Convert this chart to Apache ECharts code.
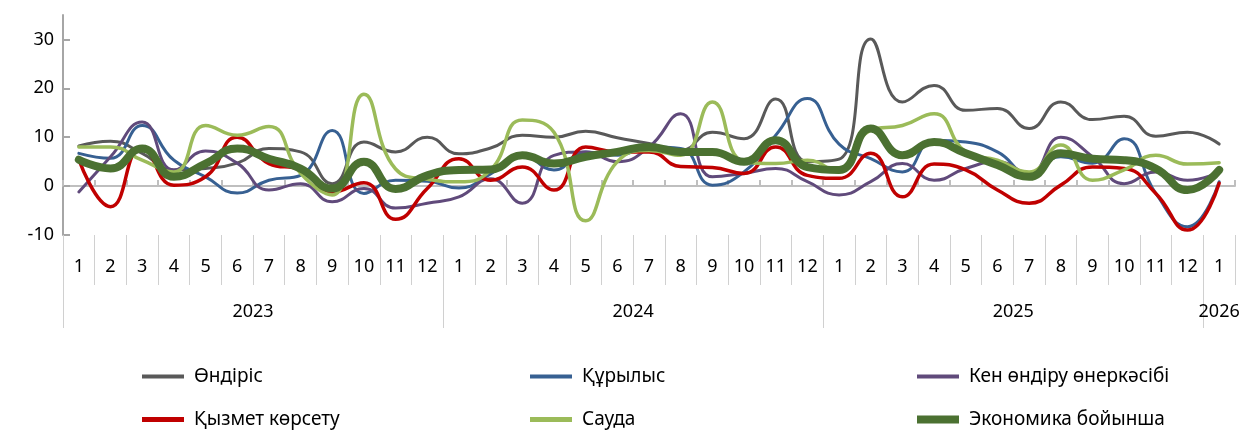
<!DOCTYPE html>
<html>
<head>
<meta charset="utf-8">
<script src="https://cdn.jsdelivr.net/npm/echarts@6/dist/echarts.min.js"></script>
<style>
html,body{margin:0;padding:0;background:#fff;}
#chart{width:1248px;height:431px;}
</style>
</head>
<body>
<div id="chart"></div>
<script>
const months = ['1','2','3','4','5','6','7','8','9','10','11','12',
                '1','2','3','4','5','6','7','8','9','10','11','12',
                '1','2','3','4','5','6','7','8','9','10','11','12',
                '1'];
const years = ['2023','2024','2025','2026'];
const yTicks = [-10, 0, 10, 20, 30];

const production = [8.2, 9.2, 6.7, 3.3, 3.6, 4.7, 7.7, 7, 0.5, 9, 7, 10,
                    6.6, 7.8, 10.4, 10, 11.2, 9.9, 8.7, 7.3, 11, 9.7, 17.8, 5,
                    5.5, 30.1, 17.2, 20.6, 15.5, 15.9, 11.8, 17.2, 13.6, 14.3, 10.2, 11,
                    8.6];
const construction = [6.7, 5.7, 12.4, 5.3, 1.9, -1.4, 1.2, 2.2, 11.4, -1.5, 1.2, 1.0,
                      -0.4, 2.5, 6.3, 3.3, 7, 6.3, 8, 7.7, 0.2, 2.9, 10.4, 17.9,
                      8.6, 5.6, 2.9, 9.4, 9, 7, 2.6, 6, 4.7, 9.7, -1.5, -8.3,
                      0.9];
const mining = [-1.2, 6, 13.1, 3.3, 7.2, 4.7, -0.8, 0.5, -3.2, -0.5, -4.5, -3.5,
                -2.2, 1.5, -3.5, 6.3, 7, 5, 8, 14.8, 1.9, 2.6, 3.6, 0.9,
                -1.8, 0.9, 4.6, 1.2, 3.6, 5, 2.6, 10, 6, 0.5, 2.9, 1.2,
                2.9];
const services = [5.4, -4.2, 8, 0.2, 1.9, 10, 4.6, 3.3, -1.2, 0.7, -6.8, -0.5,
                  5.6, 1.2, 3.9, -0.8, 8, 7, 7, 4, 3.8, 2.6, 8, 2.2,
                  1.6, 6.7, -2.2, 4.5, 3.3, -0.8, -3.5, 0.2, 3.9, 3.6, -1.5, -9,
                  0.6];
const trade = [8, 8, 5.3, 2.9, 12.4, 10.4, 12.2, 2.6, -1.8, 18.8, 3.5, 1.4,
               0.9, 3.3, 13.5, 11, -7.1, 5, 7.3, 6.3, 17.2, 5, 4.6, 5.3,
               2.9, 11.4, 12.4, 14.8, 7, 5.3, 2.9, 8.4, 1.2, 3.3, 6.3, 4.5,
               4.8];
const economy = [5.4, 3.6, 7.7, 1.9, 4.6, 7.7, 5.6, 3.6, -0.5, 5, -0.6, 2.2,
                 3.3, 3.4, 6.3, 4.6, 6, 7, 8, 7, 7, 5, 9.4, 3.9,
                 3.3, 11.8, 6.3, 9, 6.7, 4.3, 1.9, 6.7, 5.6, 5.3, 3.6, -0.8,
                 3.3];

const names = ['Өндіріс','Құрылыс','Кен өндіру өнеркәсібі','Қызмет көрсету','Сауда','Экономика бойынша'];
const colors = ['#595959','#376092','#604A7B','#C00000','#9BBB59','#4B7131'];
const widths = [3, 3, 3, 3.5, 3.5, 8];
const legendHeights = [4, 4, 4, 5, 5, 8];
const datas = [production, construction, mining, services, trade, economy];

const yearLabelPos = [6, 18, 30, 36.5];
const yearSepPos = [0, 12, 24, 36];

const FONT = 'Noto Sans';
const chart = echarts.init(document.getElementById('chart'), null, {renderer:'canvas'});

const legendLefts = [137, 525, 912];
const legendTops = [362, 405];

const option = {
  backgroundColor: '#ffffff',
  animation: false,
  textStyle: {fontFamily: FONT},
  grid: {left: 63, right: 13, top: 15, bottom: 196, containLabel: false},
  yAxis: {
    type: 'value', min: -10, max: 35,
    axisLine: {show: true, lineStyle: {color: '#A6A6A6', width: 2}},
    axisTick: {show: true, inside: true, length: 7, customValues: yTicks, lineStyle: {color: '#A6A6A6', width: 2}},
    axisLabel: {customValues: yTicks, color: '#000', fontSize: 18, fontFamily: FONT, margin: 9},
    splitLine: {show: false}
  },
  xAxis: [
    {
      type: 'category', data: months, boundaryGap: true, position: 'bottom',
      axisLine: {show: true, onZero: true, lineStyle: {color: '#BFBFBF', width: 2}},
      axisTick: {show: true, inside: true, length: 6, interval: 0, lineStyle: {color: '#BFBFBF', width: 2}},
      axisLabel: {show: false}
    },
    {
      type: 'category', data: months, boundaryGap: true, position: 'bottom',
      axisLine: {show: false, onZero: false},
      axisTick: {show: true, length: 50, interval: 0, lineStyle: {color: '#D0D0D0', width: 1}},
      axisLabel: {show: true, interval: 0, color: '#000', fontSize: 18, fontFamily: FONT, margin: 23}
    },
    {
      type: 'value', min: 0, max: 37, position: 'bottom',
      axisLine: {show: false, onZero: false},
      splitLine: {show: false},
      axisTick: {show: true, length: 93, customValues: yearSepPos, lineStyle: {color: '#D0D0D0', width: 1}},
      axisLabel: {
        show: true, customValues: yearLabelPos, color: '#000', fontSize: 18, fontFamily: FONT, margin: 68,
        formatter: function (v) { return years[yearLabelPos.indexOf(v)] || ''; }
      }
    }
  ],
  legend: names.map(function (n, k) {
    return {
      orient: 'horizontal', left: legendLefts[k % 3], top: legendTops[Math.floor(k / 3)],
      itemWidth: 42, itemHeight: legendHeights[k], icon: 'rect',
      textStyle: {fontSize: 19, color: '#000', fontFamily: FONT, padding: [0,0,0,5]},
      data: [{name: n, itemStyle: {color: colors[k]}}]
    };
  }),
  series: datas.map(function (d, k) {
    return {
      name: names[k], type: 'line', data: d, xAxisIndex: 0,
      smooth: 0.5, symbol: 'none', showSymbol: false,
      lineStyle: {color: colors[k], width: widths[k], cap: 'round', join: 'round'},
      itemStyle: {color: colors[k]},
      z: 2 + k
    };
  })
};
chart.setOption(option);
</script>
</body>
</html>
